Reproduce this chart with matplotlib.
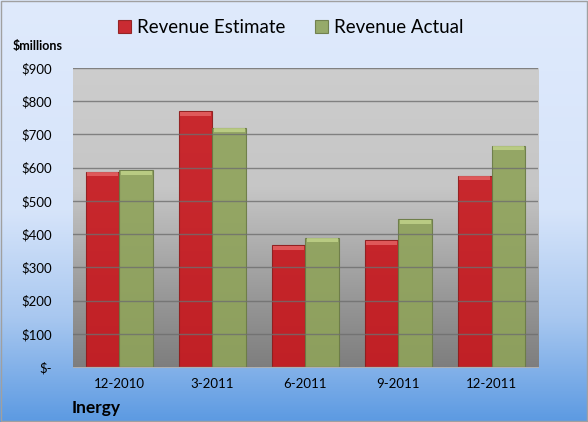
import numpy as np
import matplotlib.pyplot as plt
from matplotlib.colors import LinearSegmentedColormap
from matplotlib.patches import Rectangle

# chart data ($ millions)
quarters = ['12-2010', '3-2011', '6-2011', '9-2011', '12-2011']
estimate = [587, 769, 366, 381, 575]
actual = [592, 720, 388, 445, 666]
yticks = [0, 100, 200, 300, 400, 500, 600, 700, 800, 900]
ylabels = ['$-', '$100', '$200', '$300', '$400', '$500', '$600', '$700', '$800', '$900']

plt.rcParams['font.family'] = ['Lato', 'DejaVu Sans']

fig = plt.figure(figsize=(5.88, 4.22), dpi=100)

# figure background: pale blue fading into a stronger blue at the bottom
bg = fig.add_axes([0, 0, 1, 1], zorder=-2)
bg_cmap = LinearSegmentedColormap.from_list('bg', [(0.0, '#dfeafc'), (0.5, '#d6e4fa'),
                                                   (0.75, '#a9c8f0'), (1.0, '#5c9ae2')])
bg.imshow(np.linspace(0, 1, 256).reshape(-1, 1), cmap=bg_cmap, aspect='auto',
          extent=[0, 1, 0, 1], origin='upper')
bg.add_patch(Rectangle((0.001, 0.002), 0.997, 0.995, fill=False, ec='#a0a0a0', lw=1))
bg.set_xlim(0, 1)
bg.set_ylim(0, 1)
bg.axis('off')

ax = fig.add_axes([0.124, 0.130, 0.791, 0.709])
ax.patch.set_alpha(0)

# plot area: light grey on top, darker grey below
pa_cmap = LinearSegmentedColormap.from_list('pa', [(0.0, '#cdcdcd'), (0.4, '#c6c6c6'),
                                                   (0.75, '#9a9a9a'), (1.0, '#7e7e7e')])
ax.imshow(np.linspace(0, 1, 256).reshape(-1, 1), cmap=pa_cmap, aspect='auto',
          extent=[0, 1, 0, 1], origin='upper', transform=ax.transAxes, zorder=0)

x = np.arange(len(quarters))
w = 0.36
b1 = ax.bar(x - w / 2, estimate, w, color='#c8161c', edgecolor='#8e1a1a', lw=0.8,
            alpha=0.9, zorder=2, label='Revenue Estimate')
b2 = ax.bar(x + w / 2, actual, w, color='#8fa35a', edgecolor='#6a7a44', lw=0.8,
            alpha=0.9, zorder=2, label='Revenue Actual')

# bevelled tops
for vals, off, col in [(estimate, -w / 2, '#e86a6a'), (actual, w / 2, '#c6d88e')]:
    ax.bar(x + off, [12] * len(vals), w * 0.92, bottom=np.array(vals) - 13,
           color=col, alpha=0.75, lw=0, zorder=3)

ax.set_xlim(-0.5, len(quarters) - 0.5)
ax.set_ylim(0, 900)
ax.set_yticks(yticks)
ax.set_yticklabels(ylabels, fontsize=9.5)
ax.set_xticks(x)
ax.set_xticklabels(quarters, fontsize=9.5)
ax.tick_params(length=0, pad=8)
ax.tick_params(axis='y', pad=15)
ax.yaxis.grid(True, color='#6e6e6e', lw=1, alpha=0.8, zorder=4)
ax.set_axisbelow(False)
for s in ['left', 'right', 'top']:
    ax.spines[s].set_visible(False)
ax.spines['bottom'].set_color('#b0b0b0')

fig.text(0.022, 0.882, '$millions', fontsize=9, fontweight='bold', ha='left')
fig.text(0.122, 0.022, 'Inergy', fontsize=12.5, fontweight='bold', ha='left')

fig.legend(handles=[b1, b2], loc='center', bbox_to_anchor=(0.494, 0.934), ncol=2,
           frameon=False, fontsize=13.5, handlelength=0.7, handleheight=0.7,
           handletextpad=0.3, columnspacing=1.6)

fig.savefig('out.png', dpi=100)
